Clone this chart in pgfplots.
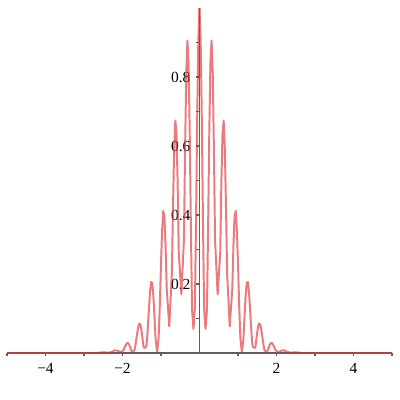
\documentclass[border=0pt]{standalone}
\usepackage{fontspec}
\setmainfont{Liberation Serif}
\usepackage{pgfplots}
\usepackage{pgfplotstable}
\pgfplotsset{compat=1.18}

\definecolor{curve}{RGB}{225,50,55}
\definecolor{axisgray}{RGB}{95,95,95}

% right half of the curve (x >= 0), mirrored for x < 0
\pgfplotstableread{
x y
0 1.000
0.03 0.912
0.06 0.679
0.09 0.383
0.12 0.129
0.157 0.070
0.194 0.126
0.224 0.368
0.254 0.639
0.284 0.842
0.314 0.906
0.344 0.811
0.374 0.592
0.404 0.328
0.471 0.170
0.538 0.289
0.568 0.493
0.598 0.638
0.628 0.674
0.658 0.592
0.688 0.424
0.718 0.231
0.785 0.077
0.852 0.187
0.882 0.313
0.912 0.397
0.942 0.412
0.972 0.355
1.002 0.250
1.032 0.133
1.062 0.043
1.100 0.002
1.137 0.036
1.167 0.099
1.197 0.163
1.227 0.203
1.257 0.206
1.287 0.174
1.317 0.120
1.347 0.063
1.377 0.020
1.414 0.015
1.451 0.016
1.481 0.043
1.511 0.069
1.541 0.085
1.571 0.085
1.601 0.070
1.631 0.048
1.661 0.024
1.691 0.008
1.728 0.003
1.765 0.006
1.795 0.015
1.825 0.024
1.855 0.029
1.885 0.029
1.915 0.023
1.945 0.016
1.975 0.008
2.042 0.002
2.139 0.007
2.199 0.008
2.259 0.004
2.356 0.001
2.513 0.002
2.670 0
3 0
5 0
}\halfcurve

\begin{document}
\begin{tikzpicture}
\useasboundingbox (-0.175,-1.175) rectangle (9.825,8.825);
\begin{axis}[
  at={(0,0)}, anchor=south west,
  scale only axis,
  width=9.625cm, height=8.625cm,
  xmin=-5, xmax=5, ymin=0, ymax=1,
  axis lines=middle,
  axis line style={-, axisgray, line width=1.1pt},
  tick align=outside,
  major tick length=2.4pt,
  minor tick length=2.4pt,
  tick style={axisgray, line width=0.9pt},
  xtick={-4,-2,2,4},
  xticklabels={−4,−2,2,4},
  minor xtick={-5,-3,-1,1,3,5},
  ytick={0.2,0.4,0.6,0.8},
  yticklabels={0.2,0.4,0.6,0.8},
  minor ytick={0.1,0.3,0.5,0.7,0.9},
  ticklabel style={font=\fontsize{11}{13}\selectfont, text=black},
  xticklabel style={yshift=-1.5pt},
  yticklabel style={xshift=-0.5pt},
  clip=false,
]
\addplot[curve, opacity=0.65, line width=1.4pt, line join=round]
  table[x=x, y=y] {\halfcurve};
\addplot[curve, opacity=0.65, line width=1.4pt, line join=round]
  table[x expr=-\thisrow{x}, y=y] {\halfcurve};
\end{axis}
\end{tikzpicture}
\end{document}
